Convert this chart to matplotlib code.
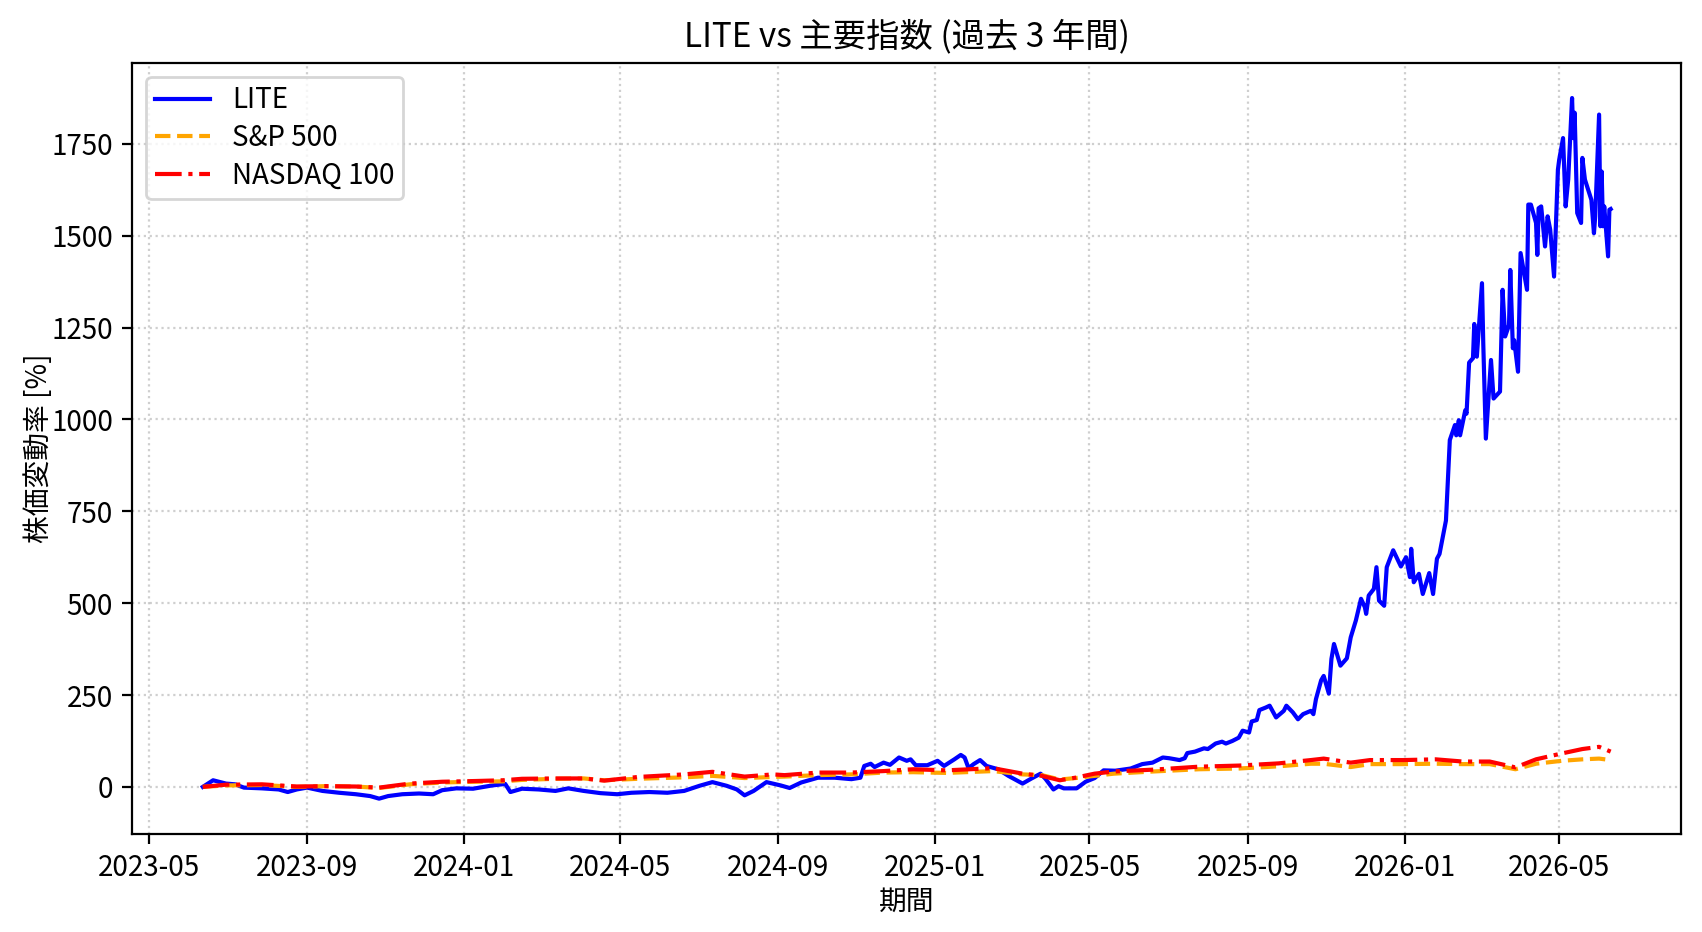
import matplotlib
matplotlib.use("Agg")
import matplotlib.pyplot as plt
import matplotlib.dates as mdates
from matplotlib.ticker import MultipleLocator
from matplotlib import font_manager
import pandas as pd

# ---------------- data ----------------
lite_dates = [
    "2023-06-12", "2023-06-20", "2023-06-30", "2023-07-07", "2023-07-14", "2023-07-28",
    "2023-08-10", "2023-08-17", "2023-08-24", "2023-09-01", "2023-09-13", "2023-09-26",
    "2023-10-09", "2023-10-20", "2023-10-27", "2023-11-03", "2023-11-14", "2023-11-27",
    "2023-12-08", "2023-12-15", "2023-12-26", "2024-01-08", "2024-01-23", "2024-02-02",
    "2024-02-06", "2024-02-15", "2024-02-28", "2024-03-12", "2024-03-22", "2024-04-03",
    "2024-04-16", "2024-04-29", "2024-05-10", "2024-05-24", "2024-06-07", "2024-06-20",
    "2024-07-02", "2024-07-12", "2024-07-23", "2024-07-31", "2024-08-06", "2024-08-13",
    "2024-08-23", "2024-09-03", "2024-09-10", "2024-09-19", "2024-10-02", "2024-10-15",
    "2024-10-28", "2024-11-04", "2024-11-07", "2024-11-12", "2024-11-15", "2024-11-22",
    "2024-11-27", "2024-12-04", "2024-12-10", "2024-12-13", "2024-12-17", "2024-12-26",
    "2025-01-03", "2025-01-08", "2025-01-16", "2025-01-21", "2025-01-24", "2025-01-27",
    "2025-01-31", "2025-02-05", "2025-02-10", "2025-02-19", "2025-02-27", "2025-03-10",
    "2025-03-17", "2025-03-24", "2025-03-28", "2025-04-03", "2025-04-07", "2025-04-11",
    "2025-04-21", "2025-04-28", "2025-05-05", "2025-05-12", "2025-05-21", "2025-06-02",
    "2025-06-11", "2025-06-19", "2025-06-27", "2025-07-02", "2025-07-10", "2025-07-14",
    "2025-07-16", "2025-07-22", "2025-07-29", "2025-08-01", "2025-08-07", "2025-08-12",
    "2025-08-15", "2025-08-20", "2025-08-25", "2025-08-28", "2025-09-02", "2025-09-04",
    "2025-09-08", "2025-09-10", "2025-09-15", "2025-09-18", "2025-09-23", "2025-09-29",
    "2025-10-01", "2025-10-06", "2025-10-10", "2025-10-14", "2025-10-20", "2025-10-22",
    "2025-10-24", "2025-10-28", "2025-10-30", "2025-11-03", "2025-11-05", "2025-11-07",
    "2025-11-12", "2025-11-17", "2025-11-20", "2025-11-24", "2025-11-28", "2025-12-01",
    "2025-12-02", "2025-12-04", "2025-12-08", "2025-12-10", "2025-12-12", "2025-12-16",
    "2025-12-18", "2025-12-23", "2025-12-29", "2026-01-02", "2026-01-05", "2026-01-06",
    "2026-01-08", "2026-01-12", "2026-01-15", "2026-01-20", "2026-01-23", "2026-01-26",
    "2026-01-28", "2026-02-02", "2026-02-05", "2026-02-09", "2026-02-10", "2026-02-12",
    "2026-02-13", "2026-02-17", "2026-02-18", "2026-02-20", "2026-02-23", "2026-02-24",
    "2026-02-26", "2026-03-02", "2026-03-03", "2026-03-05", "2026-03-09", "2026-03-11",
    "2026-03-16", "2026-03-18", "2026-03-20", "2026-03-23", "2026-03-24", "2026-03-26",
    "2026-03-27", "2026-03-30", "2026-04-01", "2026-04-06", "2026-04-07", "2026-04-09",
    "2026-04-13", "2026-04-14", "2026-04-15", "2026-04-17", "2026-04-20", "2026-04-22",
    "2026-04-24", "2026-04-27", "2026-04-30", "2026-05-01", "2026-05-04", "2026-05-06",
    "2026-05-08", "2026-05-11", "2026-05-12", "2026-05-13", "2026-05-15", "2026-05-18",
    "2026-05-19", "2026-05-21", "2026-05-26", "2026-05-28", "2026-05-29", "2026-06-01",
    "2026-06-02", "2026-06-03", "2026-06-04", "2026-06-05", "2026-06-08", "2026-06-09",
    "2026-06-10",
]
lite_pct = [
    0, 18, 9, 7, -2, -4,
    -7, -14, -7, -2, -11, -16,
    -20, -25, -32, -25, -20, -18,
    -20, -9, -4, -5, 4, 8,
    -14, -5, -7, -11, -4, -11,
    -17, -20, -16, -14, -16, -11,
    3, 13, 3, -7, -23, -11,
    13, 4, -3, 12, 25, 25,
    21, 25, 57, 63, 54, 66,
    60, 80, 71, 75, 59, 59,
    71, 57, 75, 87, 80, 51,
    62, 73, 57, 48, 30, 9,
    23, 36, 21, -7, 2, -4,
    -4, 14, 24, 45, 44, 50,
    62, 66, 80, 78, 73, 78,
    92, 96, 105, 103, 118, 123,
    118, 125, 134, 153, 148, 178,
    182, 209, 216, 221, 189, 207,
    221, 203, 184, 198, 207, 198,
    239, 290, 302, 254, 348, 389,
    330, 350, 407, 453, 512, 489,
    471, 521, 539, 598, 507, 493,
    598, 644, 600, 625, 571, 648,
    557, 580, 525, 582, 525, 621,
    634, 725, 944, 985, 957, 998,
    957, 1025, 1016, 1155, 1167, 1260,
    1171, 1371, 1207, 948, 1162, 1057,
    1076, 1353, 1226, 1257, 1407, 1194,
    1216, 1130, 1453, 1353, 1585, 1585,
    1535, 1448, 1575, 1580, 1471, 1553,
    1517, 1389, 1680, 1707, 1766, 1580,
    1653, 1875, 1766, 1835, 1562, 1535,
    1712, 1653, 1598, 1507, 1553, 1830,
    1526, 1675, 1526, 1580, 1444, 1571,
    1573,
]

idx_dates = [
    "2023-06-12", "2023-06-30", "2023-07-28", "2023-08-24", "2023-09-15", "2023-10-09",
    "2023-10-27", "2023-11-20", "2023-12-15", "2024-01-10", "2024-01-31", "2024-02-15",
    "2024-03-12", "2024-04-03", "2024-04-19", "2024-05-15", "2024-06-20", "2024-07-12",
    "2024-08-06", "2024-08-28", "2024-09-06", "2024-10-02", "2024-10-28", "2024-11-22",
    "2024-12-15", "2025-01-10", "2025-02-15", "2025-03-10", "2025-03-25", "2025-04-08",
    "2025-04-20", "2025-05-05", "2025-05-20", "2025-06-20", "2025-07-25", "2025-08-25",
    "2025-09-25", "2025-10-20", "2025-10-30", "2025-11-20", "2025-12-05", "2025-12-31",
    "2026-01-25", "2026-02-15", "2026-03-08", "2026-03-28", "2026-04-13", "2026-05-03",
    "2026-05-19", "2026-06-01", "2026-06-10",
]
sp500_pct = [
    0, 4, 5, 0, 2, 1,
    -3, 7, 12, 14, 15, 19,
    22, 23, 18, 22, 26, 30,
    24, 27, 28, 32, 34, 39,
    40, 38, 43, 34, 32, 20,
    24, 30, 36, 42, 48, 50,
    56, 63, 63, 54, 62, 62,
    63, 62, 62, 48, 63, 71,
    75, 77, 73,
]
ndx_pct = [
    0, 6, 7, 1, 2, 1,
    -2, 9, 14, 16, 18, 22,
    23, 23, 17, 27, 34, 41,
    28, 34, 32, 39, 39, 43,
    48, 45, 51, 36, 30, 18,
    25, 36, 42, 47, 55, 58,
    64, 73, 77, 66, 73, 73,
    75, 69, 69, 53, 75, 91,
    103, 109, 96,
]

# ---------------- fonts ----------------
available = {f.name for f in font_manager.fontManager.ttflist}
families = []
for name in ["Noto Sans Mono CJK JP", "Noto Sans CJK JP", "DejaVu Sans"]:
    if name in available:
        families.append(name)
plt.rcParams["font.family"] = families
plt.rcParams["axes.unicode_minus"] = False

# ---------------- plot ----------------
fig = plt.figure(figsize=(8.51, 4.66), dpi=200)
ax = fig.add_axes([0.0778, 0.1055, 0.9099, 0.8269])

ax.plot(pd.to_datetime(lite_dates), lite_pct, color="blue", linewidth=1.5, label="LITE")
ax.plot(pd.to_datetime(idx_dates), sp500_pct, color="orange", linestyle="--", linewidth=1.5, label="S&P 500")
ax.plot(pd.to_datetime(idx_dates), ndx_pct, color="red", linestyle="-.", linewidth=1.5, label="NASDAQ 100")

ax.set_title("LITE vs 主要指数 (過去 3 年間)", fontsize=12)
ax.set_xlabel("期間", fontsize=10, labelpad=1.3)
ax.set_ylabel("株価変動率 [%]", fontsize=10, labelpad=-1)
ax.xaxis.set_major_locator(mdates.MonthLocator(bymonth=[1, 5, 9]))
ax.xaxis.set_major_formatter(mdates.DateFormatter("%Y-%m"))
ax.yaxis.set_major_locator(MultipleLocator(250))
ax.grid(True, linestyle=":", alpha=0.6)
ax.legend(loc="upper left", fontsize=10, labelspacing=0.28, borderpad=0.3)

fig.savefig("out.png", dpi=200)
